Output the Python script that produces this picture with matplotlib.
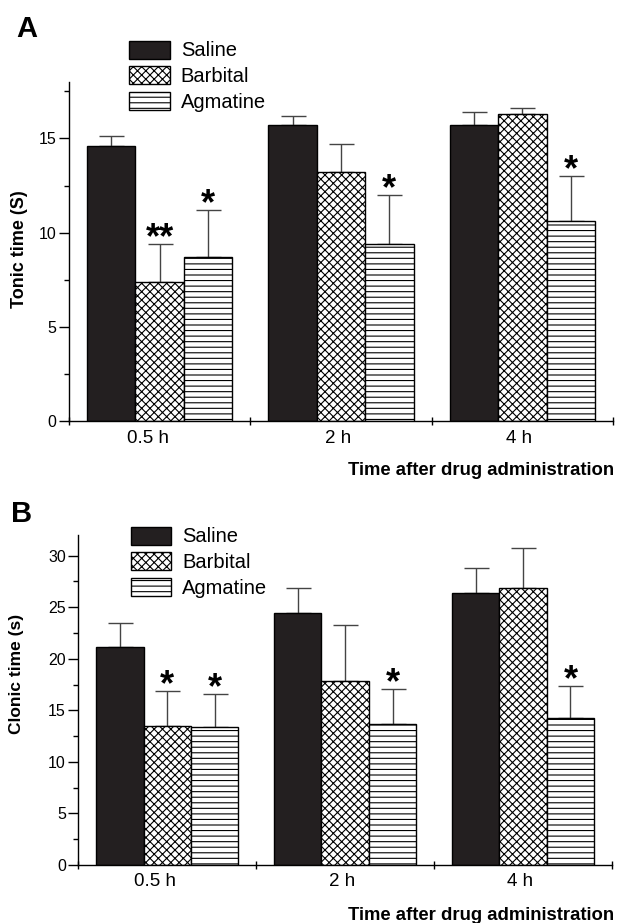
import numpy as np
import matplotlib
matplotlib.use('Agg')
import matplotlib.pyplot as plt
from matplotlib.ticker import MultipleLocator, FixedLocator
from matplotlib.transforms import ScaledTranslation

plt.rcParams['font.family'] = ['Liberation Sans', 'DejaVu Sans']
plt.rcParams['hatch.linewidth'] = 0.8

times = ['0.5 h', '2 h', '4 h']
groups = ['Saline', 'Barbital', 'Agmatine']

# panel A - tonic time
tonic_saline = [14.6, 15.7, 15.7]
tonic_saline_err = [0.5, 0.5, 0.7]
tonic_barbital = [7.4, 13.2, 16.3]
tonic_barbital_err = [2.0, 1.5, 0.3]
tonic_agmatine = [8.7, 9.4, 10.6]
tonic_agmatine_err = [2.5, 2.6, 2.4]
tonic_sig = [['', '', ''], ['**', '', ''], ['*', '*', '*']]

# panel B - clonic time
clonic_saline = [21.1, 24.4, 26.4]
clonic_saline_err = [2.4, 2.5, 2.4]
clonic_barbital = [13.5, 17.8, 26.9]
clonic_barbital_err = [3.4, 5.5, 3.8]
clonic_agmatine = [13.4, 13.7, 14.3]
clonic_agmatine_err = [3.2, 3.4, 3.1]
clonic_sig = [['', '', ''], ['*', '', ''], ['*', '*', '*']]

styles = [
    dict(color='#231f20', edgecolor='black', hatch=None),
    dict(color='white', edgecolor='black', hatch='xxxx'),
    dict(color='white', edgecolor='black', hatch='---'),
]

W, H = 617, 923


def draw_panel(ax, means, errs, sig, ylim):
    width = 0.8 / 3
    x = np.arange(len(times)) + 0.5
    handles = []
    for i, (m, e) in enumerate(zip(means, errs)):
        pos = x + (i - 1) * width
        b = ax.bar(pos, m, width, linewidth=1.0, zorder=2, **styles[i])
        handles.append(b)
        ax.errorbar(pos, m, yerr=[np.zeros(len(e)), e], fmt='none',
                    ecolor='#444444', elinewidth=1.0, capsize=9, capthick=1.0, zorder=1)
        for p, top, s in zip(pos, np.array(m) + np.array(e), sig[i]):
            if s:
                ax.annotate(s, (p, top), xytext=(0, -3), textcoords='offset points',
                            ha='center', va='baseline', fontsize=26, fontweight='bold')
    ax.set_xlim(0, 3)
    ax.set_ylim(*ylim)
    ax.spines['top'].set_visible(False)
    ax.spines['right'].set_visible(False)
    ax.spines['left'].set_linewidth(1.0)
    ax.spines['bottom'].set_linewidth(1.0)
    ax.xaxis.set_major_locator(FixedLocator([0, 1, 2, 3]))
    ax.xaxis.set_minor_locator(FixedLocator(list(x)))
    ax.set_xticklabels([], minor=False)
    ax.set_xticklabels(times, minor=True)
    ax.tick_params(axis='x', which='major', direction='inout', length=6, width=1)
    ax.tick_params(axis='x', which='minor', length=0, pad=6, labelsize=13.5)
    # labels in the original sit a little left of the group centres
    for k, lab in enumerate(ax.get_xticklabels(minor=True)):
        dx = -12 if k == 0 else -3
        lab.set_transform(lab.get_transform() + ScaledTranslation(dx / 100, 0, ax.figure.dpi_scale_trans))
    ax.yaxis.set_major_locator(MultipleLocator(5))
    ax.yaxis.set_minor_locator(MultipleLocator(2.5))
    ax.tick_params(axis='y', which='major', direction='out', length=7, width=1, pad=2, labelsize=11.5)
    ax.tick_params(axis='y', which='minor', direction='out', length=3.5, width=1)
    return handles


fig = plt.figure(figsize=(W / 100, H / 100), dpi=100)
axA = fig.add_axes([69 / W, 1 - 421.5 / H, 544 / W, 339.8 / H])
axB = fig.add_axes([78.3 / W, 1 - 865 / H, 533.7 / W, 330 / H])

hA = draw_panel(axA, [tonic_saline, tonic_barbital, tonic_agmatine],
                [tonic_saline_err, tonic_barbital_err, tonic_agmatine_err],
                tonic_sig, (0, 18))
hB = draw_panel(axB, [clonic_saline, clonic_barbital, clonic_agmatine],
                [clonic_saline_err, clonic_barbital_err, clonic_agmatine_err],
                clonic_sig, (0, 32))

for h, anchor in [(hA, (129.3 / W, 1 - 40.5 / H)), (hB, (131 / W, 1 - 526.5 / H))]:
    fig.legend(h, groups, loc='upper left', bbox_to_anchor=anchor, frameon=False,
               fontsize=14.5, handlelength=2.0, handleheight=1.0, handletextpad=0.55,
               labelspacing=0.3, borderpad=0, borderaxespad=0)

fig.text(19.6 / W, 1 - 249 / H, 'Tonic time (S)', rotation=90, fontsize=13,
         fontweight='bold', ha='center', va='center')
fig.text(16.5 / W, 1 - 674 / H, 'Clonic time (s)', rotation=90, fontsize=12.5,
         fontweight='bold', ha='center', va='center')

fig.text(16 / W, 1 - 37.3 / H, 'A', fontsize=21, fontweight='bold', va='baseline')
fig.text(11 / W, 1 - 521.7 / H, 'B', fontsize=21, fontweight='bold', va='baseline')
fig.text(614 / W, 1 - 470.5 / H, 'Time after drug administration', fontsize=13.3,
         fontweight='bold', ha='right', va='center')
fig.text(614 / W, 1 - 915.5 / H, 'Time after drug administration', fontsize=13.3,
         fontweight='bold', ha='right', va='center')

fig.savefig('out.png', dpi=100)
